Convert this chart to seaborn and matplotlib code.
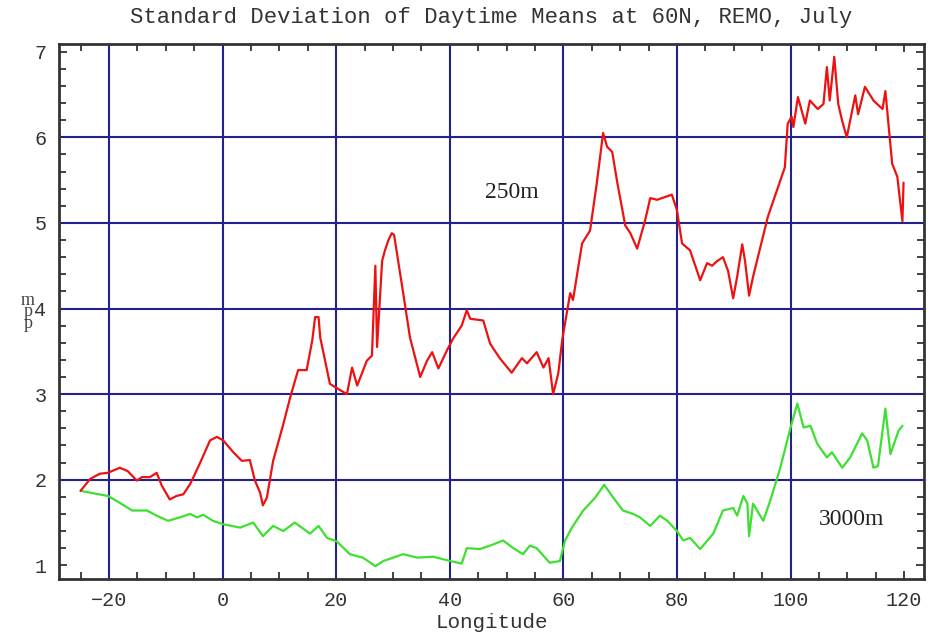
import matplotlib
matplotlib.use("Agg")
import matplotlib.pyplot as plt
import seaborn as sns
import pandas as pd
from matplotlib.ticker import MultipleLocator, FixedLocator

title = "Standard Deviation of Daytime Means at 60N, REMO, July"
x_label = "Longitude"
x_ticks = [-20, 0, 20, 40, 60, 80, 100, 120]
y_ticks = [1, 2, 3, 4, 5, 6, 7]
x_grid = [-20, 0, 20, 40, 60, 80, 100]
y_grid = [2, 3, 4, 5, 6]

red_lon = [-25, -23.3, -21.6, -20.2, -18.1, -16.7, -15.1, -14.2, -12.8, -11.6, -10.7, -9.3, -8.1, -6.9,
           -5.7, -4, -2.2, -1, 0.1, 1.9, 3.4, 4.8, 5.7, 6.6, 7.1, 7.8, 8.9, 10.7, 11.9, 13.3, 14.8,
           15.8, 16.3, 16.9, 17.2, 18.9, 20.1, 21.9, 22.8, 23.7, 25.4, 26.3, 26.9, 27.2, 28.1, 28.6,
           29.2, 29.8, 30.2, 31.8, 33, 34.8, 36, 36.9, 38, 39.5, 40.6, 42.1, 43, 43.6, 45.9, 47.1,
           48.8, 50.9, 52.7, 53.6, 55.3, 56.5, 57.4, 58.2, 59.1, 59.8, 61.2, 61.7, 63.3, 64.7, 65.9,
           67, 67.7, 68.6, 69.5, 70.9, 71.8, 73, 74.4, 75.3, 76.5, 79.1, 80, 80.9, 82.3, 84.1, 85.3,
           86.2, 87, 88.1, 89, 89.9, 90.6, 91.5, 92, 92.7, 93.4, 96, 99, 99.5, 100.2, 100.5, 101.3,
           102.6, 103.4, 104.8, 105.8, 106.4, 106.9, 107.7, 108.4, 109.1, 109.9, 111.4, 111.9,
           113.1, 114.6, 116.2, 116.7, 117.9, 118.8, 119.7, 119.9]
red_val = [1.87, 2.01, 2.07, 2.08, 2.14, 2.1, 1.99, 2.03, 2.03, 2.08, 1.93, 1.77, 1.81, 1.83,
           1.95, 2.19, 2.46, 2.5, 2.46, 2.32, 2.22, 2.23, 1.99, 1.85, 1.7, 1.79, 2.22, 2.65, 2.96, 3.28, 3.28,
           3.63, 3.9, 3.9, 3.66, 3.12, 3.07, 3.0, 3.31, 3.1, 3.39, 3.45, 4.5, 3.55, 4.56, 4.68,
           4.8, 4.88, 4.86, 4.18, 3.66, 3.2, 3.39, 3.49, 3.3, 3.51, 3.65, 3.8, 3.98, 3.88, 3.86, 3.59,
           3.42, 3.25, 3.42, 3.36, 3.49, 3.31, 3.42, 3.0, 3.24, 3.63, 4.18, 4.1, 4.76, 4.91, 5.47,
           6.05, 5.89, 5.83, 5.47, 4.97, 4.88, 4.7, 5.03, 5.29, 5.27, 5.33, 5.15, 4.76, 4.68, 4.33, 4.53,
           4.5, 4.55, 4.6, 4.44, 4.12, 4.37, 4.75, 4.55, 4.15, 4.37, 5.07, 5.65, 6.16, 6.24, 6.12, 6.47,
           6.16, 6.43, 6.33, 6.39, 6.82, 6.43, 6.94, 6.39, 6.19, 6.0, 6.49, 6.27,
           6.59, 6.43, 6.33, 6.54, 5.69, 5.54, 5.02, 5.47]

green_lon = [-25, -20.2, -18.6, -15.9, -13.3, -11.6, -9.6, -7.5, -5.7, -4.5, -3.4, -1.7, 0.1, 3.1,
             5.4, 7.1, 8.9, 10.7, 12.7, 15.4, 16.9, 18.4, 20.1, 22.4, 24.7, 26.9, 28.3, 31.8, 34.3,
             37.1, 40.1, 42.1, 43, 45.3, 47.1, 49.4, 51.2, 52.9, 54.1, 55.3, 57.6, 59.4, 60.3, 61.5,
             63.5, 65.6, 67.2, 68.8, 70.5, 72.3, 73.5, 75.3, 77, 78.3, 80, 81.1, 82.3, 84.1, 86.4,
             88.1, 89.9, 90.6, 91.7, 92.4, 92.7, 93.4, 95.2, 96.4, 98.2, 100, 101.2, 102.3, 103.5,
             104.7, 106.4, 107.3, 109.1, 110.5, 112.6, 113.5, 114.6, 115.4, 116.7, 117.6, 119, 119.7]
green_val = [1.87, 1.81, 1.75, 1.64, 1.64, 1.58, 1.52, 1.56, 1.6, 1.56, 1.59, 1.52, 1.48, 1.44,
             1.5, 1.34, 1.46, 1.4, 1.5, 1.37, 1.46, 1.32, 1.28, 1.13, 1.09, 0.99, 1.05, 1.13, 1.09,
             1.1, 1.05, 1.02, 1.2, 1.19, 1.23, 1.29, 1.2, 1.13, 1.23, 1.2, 1.03, 1.05, 1.29, 1.44,
             1.64, 1.79, 1.94, 1.79, 1.64, 1.6, 1.56, 1.46, 1.58, 1.52, 1.4, 1.29, 1.32, 1.19, 1.37,
             1.64, 1.67, 1.58, 1.81, 1.72, 1.34, 1.72, 1.52, 1.75, 2.14, 2.61, 2.89, 2.61, 2.63,
             2.42, 2.26, 2.32, 2.14, 2.26, 2.54, 2.46, 2.14, 2.16, 2.83, 2.3, 2.57, 2.63]

red_df = pd.DataFrame({"lon": red_lon, "val": red_val})
green_df = pd.DataFrame({"lon": green_lon, "val": green_val})

sns.set_style("white")
plt.rcParams["font.family"] = ["Liberation Mono", "DejaVu Sans Mono"]

fig = plt.figure(figsize=(9.35, 6.37), dpi=100)
ax = fig.add_axes([59 / 935, 1 - 579 / 637, (924 - 59) / 935, (579 - 44) / 637])

grid_color = "#22228a"
for gx in x_grid:
    ax.axvline(gx, color=grid_color, lw=1.5, zorder=1)
for gy in y_grid:
    ax.axhline(gy, color=grid_color, lw=1.5, zorder=1)

sns.lineplot(data=green_df, x="lon", y="val", sort=False, estimator=None,
             color="#3ee030", lw=1.6, ax=ax, zorder=3)
sns.lineplot(data=red_df, x="lon", y="val", sort=False, estimator=None,
             color="#ee1111", lw=1.6, ax=ax, zorder=3)

ax.set_xlim(-28.8, 123.5)
ax.set_ylim(0.84, 7.09)
ax.xaxis.set_major_locator(FixedLocator(x_ticks))
ax.yaxis.set_major_locator(FixedLocator(y_ticks))
ax.xaxis.set_minor_locator(MultipleLocator(5))
ax.yaxis.set_minor_locator(MultipleLocator(0.2))
ax.tick_params(which="both", direction="in", top=True, right=True, bottom=True, left=True,
               color="#222222", labelsize=14.5, labelcolor="#333333")
ax.tick_params(which="major", length=6, width=1.2, pad=9)
ax.tick_params(which="minor", length=5, width=1.2)
for s in ax.spines.values():
    s.set_color("#333333")
    s.set_linewidth(2)

ax.set_xlabel(x_label, fontsize=15, color="#333333", labelpad=2)
ax.set_ylabel("")
fig.text(0.525, 1 - 18 / 637, title, ha="center", va="center", fontsize=16, color="#333333")

fig.text(28 / 935, 1 - 312 / 637, "m\np\np", ha="center", va="center", fontsize=13,
         family="Liberation Serif", color="#444444", linespacing=0.6)
ax.text(50.9, 5.35, "250m", ha="center", va="center", fontsize=17, family="Liberation Serif",
        color="#222222")
ax.text(110.7, 1.53, "3000m", ha="center", va="center", fontsize=17, family="Liberation Serif",
        color="#222222")

fig.savefig("out.png", dpi=100)
